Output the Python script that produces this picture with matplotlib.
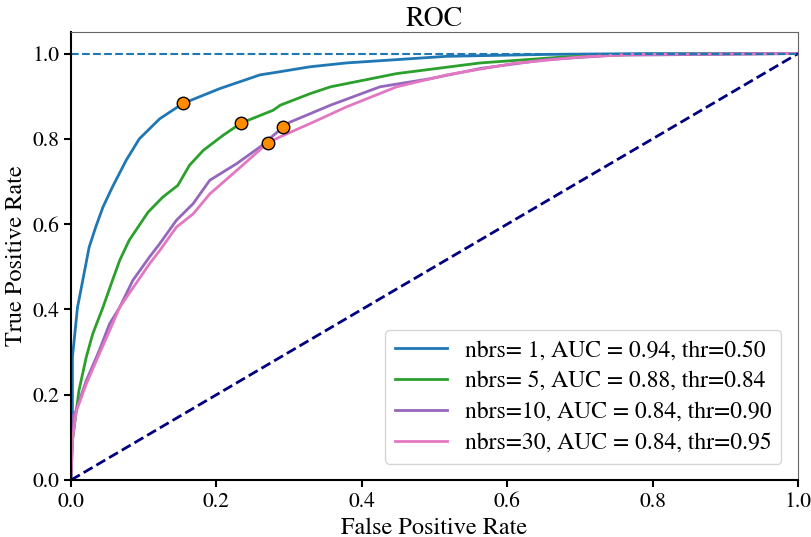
import matplotlib.pyplot as plt

plt.rcParams['font.family'] = ['STIXGeneral', 'DejaVu Serif']
plt.rcParams['mathtext.fontset'] = 'stix'

# ROC points (fpr, tpr) for each neighbour count
fpr_1 = [0, 0.001, 0.002, 0.002, 0.009, 0.018, 0.025, 0.034, 0.044, 0.057, 0.076, 0.094, 0.122, 0.154, 0.205, 0.26, 0.286, 0.329, 0.379, 0.517, 0.655, 0.8, 1.0]
tpr_1 = [0, 0.06, 0.131, 0.288, 0.405, 0.484, 0.546, 0.593, 0.64, 0.687, 0.75, 0.80, 0.847, 0.883, 0.918, 0.95, 0.957, 0.969, 0.978, 0.9935, 0.998, 1.0, 1.0]

fpr_5 = [0, 0.002, 0.011, 0.021, 0.03, 0.044, 0.057, 0.067, 0.08, 0.106, 0.126, 0.147, 0.163, 0.182, 0.209, 0.234, 0.278, 0.288, 0.329, 0.357, 0.448, 0.563, 0.678, 0.77, 1.0]
tpr_5 = [0, 0.092, 0.21, 0.288, 0.343, 0.405, 0.468, 0.515, 0.562, 0.628, 0.663, 0.691, 0.738, 0.773, 0.808, 0.837, 0.867, 0.879, 0.906, 0.922, 0.953, 0.978, 0.992, 0.998, 1.0]

fpr_10 = [0, 0.002, 0.007, 0.021, 0.039, 0.053, 0.067, 0.085, 0.108, 0.122, 0.145, 0.168, 0.191, 0.228, 0.26, 0.292, 0.301, 0.329, 0.357, 0.425, 0.494, 0.563, 0.655, 0.747, 1.0]
tpr_10 = [0, 0.147, 0.163, 0.233, 0.304, 0.366, 0.405, 0.468, 0.523, 0.554, 0.609, 0.648, 0.703, 0.742, 0.781, 0.828, 0.839, 0.859, 0.879, 0.922, 0.941, 0.965, 0.986, 0.996, 1.0]

fpr_30 = [0, 0.002, 0.007, 0.021, 0.039, 0.053, 0.067, 0.085, 0.108, 0.122, 0.145, 0.168, 0.191, 0.228, 0.271, 0.288, 0.333, 0.379, 0.448, 0.517, 0.609, 0.701, 0.77, 1.0]
tpr_30 = [0, 0.092, 0.16, 0.225, 0.296, 0.35, 0.405, 0.45, 0.507, 0.538, 0.593, 0.624, 0.671, 0.726, 0.791, 0.805, 0.839, 0.875, 0.922, 0.95, 0.977, 0.992, 0.998, 1.0]

curves = [(fpr_1, tpr_1), (fpr_5, tpr_5), (fpr_10, tpr_10), (fpr_30, tpr_30)]
labels = ['nbrs= 1, AUC = 0.94, thr=0.50',
          'nbrs= 5, AUC = 0.88, thr=0.84',
          'nbrs=10, AUC = 0.84, thr=0.90',
          'nbrs=30, AUC = 0.84, thr=0.95']
colors = ['tab:blue', 'tab:green', 'tab:purple', 'tab:pink']

# operating points at the chosen thresholds
thr_fpr = [0.154, 0.234, 0.292, 0.271]
thr_tpr = [0.883, 0.837, 0.828, 0.791]

fig = plt.figure(figsize=(8.11, 5.37), dpi=100)
ax = fig.add_axes([0.0875, 0.106, 0.8965, 0.834])

for (f, t), lab, c in zip(curves, labels, colors):
    ax.plot(f, t, color=c, lw=2, label=lab)
ax.plot([0, 1], [0, 1], color='navy', lw=2, linestyle='--')
ax.axhline(1.0, color='tab:blue', lw=1.5, linestyle='--')
ax.plot(thr_fpr, thr_tpr, 'o', color='darkorange', markeredgecolor='black',
        markersize=9, zorder=5)

ax.set_xlim(0, 1)
ax.set_ylim(0, 1.05)
ax.set_xlabel('False Positive Rate', fontsize=17.5)
ax.set_ylabel('True Positive Rate', fontsize=17.5)
ax.set_title('ROC', fontsize=20, pad=4)
ax.tick_params(labelsize=15.5, width=1.5, length=5)
ax.spines['top'].set_color('#666666')
ax.spines['right'].set_color('#666666')
for s in ['left', 'bottom']:
    ax.spines[s].set_linewidth(1.5)
ax.legend(loc='lower right', fontsize=17, handlelength=2.2, handletextpad=0.8,
          labelspacing=0.4, borderaxespad=0.7)

plt.savefig('out.png', dpi=100)
